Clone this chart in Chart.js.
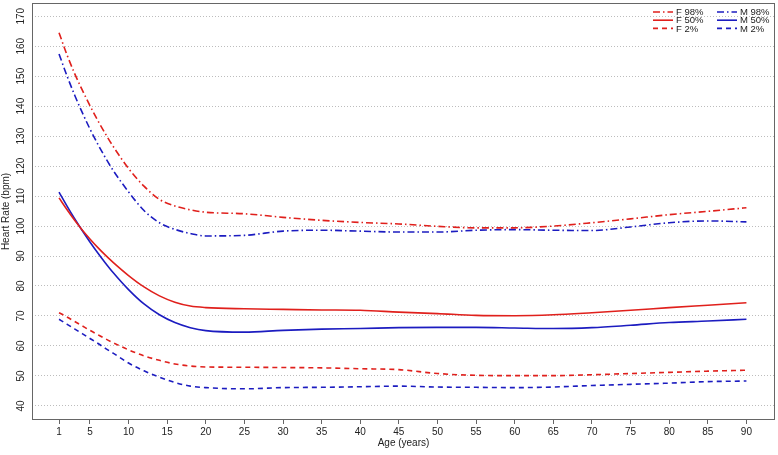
<!DOCTYPE html>
<html><head><meta charset="utf-8">
<script src="https://cdn.jsdelivr.net/npm/chart.js@4.4.0/dist/chart.umd.min.js"></script>
<style>html,body{margin:0;padding:0;background:#fff;}#wrap{width:778px;height:455px;position:relative;}</style>
</head><body><div id="wrap"><canvas id="c" width="778" height="455"></canvas></div>
<script>
// ---- data ----
const ages = [1,2,3,4,5,6,7,8,10,12,14,16,18,20,25,30,35,40,45,50,55,60,65,70,75,80,85,90];
const f98 = [164.5,157.3,151.0,145.4,140.2,135.3,130.8,126.6,119.2,113.3,108.9,106.7,105.4,104.6,104.1,102.9,101.9,101.2,100.7,99.9,99.4,99.4,100,101.1,102.4,103.8,104.9,106.1];
const m98 = [157.4,150.3,143.8,137.9,132.4,127.4,122.8,118.6,111.4,105.2,101.1,98.9,97.5,96.7,96.9,98.3,98.6,98.3,98.0,98.0,98.6,98.8,98.6,98.5,99.7,101.1,101.7,101.4];
const f50 = [109.4,105.6,102.0,98.7,95.7,92.9,90.3,87.9,83.5,79.7,76.7,74.6,73.3,72.8,72.4,72.2,72,71.9,71.3,70.8,70.2,70.1,70.4,71.1,71.9,72.8,73.6,74.4];
const m50 = [111.3,106.8,102.5,98.5,94.7,91.1,87.7,84.5,78.8,74.0,70.4,67.8,66.1,65.1,64.6,65.2,65.6,65.8,66.1,66.2,66.2,66,65.8,66.1,66.9,67.8,68.3,68.9];
const f2  = [71.1,69.7,68.2,66.7,65.2,63.8,62.4,61.1,58.7,56.7,55.2,54.0,53.3,53,52.9,52.8,52.7,52.4,52.1,50.8,50.2,50.1,50.1,50.4,50.8,51.2,51.6,51.9];
const m2  = [68.9,67.3,65.7,64.1,62.5,60.9,59.2,57.6,54.3,51.7,49.6,47.8,46.6,46.1,45.7,46.1,46.2,46.4,46.6,46.3,46.2,46.1,46.3,46.8,47.2,47.6,48.1,48.3];
const xTicks = [1,5,10,15,20,25,30,35,40,45,50,55,60,65,70,75,80,85,90];
const yTicks = [40,50,60,70,80,90,100,110,120,130,140,150,160,170];
const seriesLabels = ['F 98%','M 98%','F 50%','M 50%','F 2%','M 2%'];

// ---- styles ----
const RED = '#e0201c', BLUE = '#1c1cc0';
const DASHDOT = [7,3,1.5,3], DASHED = [5,4], SOLID = [];
const FONT = "'Liberation Sans', Arial, Helvetica, sans-serif";
const TXT = '#222';
Chart.defaults.font.family = FONT;
Chart.defaults.font.size = 10;
Chart.defaults.color = TXT;

function mk(label, vals, color, dash) {
  return {
    label, data: ages.map((a, i) => ({x: a, y: vals[i]})),
    borderColor: color, backgroundColor: color, borderDash: dash,
    borderWidth: 1.6, pointRadius: 0, fill: false,
    cubicInterpolationMode: 'monotone'
  };
}

const datasets = [
  mk(seriesLabels[0], f98, RED, DASHDOT),
  mk(seriesLabels[1], m98, BLUE, DASHDOT),
  mk(seriesLabels[2], f50, RED, SOLID),
  mk(seriesLabels[3], m50, BLUE, SOLID),
  mk(seriesLabels[4], f2, RED, DASHED),
  mk(seriesLabels[5], m2, BLUE, DASHED)
];

const boxPlugin = {
  id: 'box',
  afterDraw(chart) {
    const {ctx, chartArea: a} = chart;
    ctx.save();
    ctx.strokeStyle = '#666';
    ctx.lineWidth = 1;
    ctx.setLineDash([]);
    ctx.strokeRect(Math.round(a.left) + 0.5, Math.round(a.top) + 0.5,
      Math.round(a.right - a.left) - 1, Math.round(a.bottom - a.top) - 1);
    ctx.restore();
  }
};

const legendPlugin = {
  id: 'rlegend',
  afterDraw(chart) {
    const ctx = chart.ctx;
    ctx.save();
    ctx.font = "9.5px " + FONT;
    ctx.textBaseline = 'middle';
    ctx.textAlign = 'left';
    chart.data.datasets.forEach((ds, i) => {
      const col = i % 2, row = Math.floor(i / 2);
      const x0 = col ? 717 : 653;
      const y = 12 + row * 8.2;
      ctx.strokeStyle = ds.borderColor;
      ctx.lineWidth = 1.6;
      ctx.setLineDash(ds.borderDash);
      ctx.beginPath(); ctx.moveTo(x0, y); ctx.lineTo(x0 + 20, y); ctx.stroke();
      ctx.setLineDash([]);
      ctx.fillStyle = TXT;
      ctx.fillText(ds.label, x0 + 23, y + 0.5);
    });
    ctx.restore();
  }
};

new Chart(document.getElementById('c'), {
  type: 'line',
  data: {datasets},
  options: {
    responsive: false, animation: false, devicePixelRatio: 1,
    layout: {padding: {top: 3, right: 3, left: 0, bottom: 0}},
    plugins: {legend: {display: false}, tooltip: {enabled: false}},
    scales: {
      x: {
        type: 'linear', min: -2.5, max: 93.7,
        afterBuildTicks: s => { s.ticks = xTicks.map(v => ({value: v})); },
        afterFit: s => { s.height = 35; s.paddingLeft = 0; s.paddingRight = 0; },
        grid: {drawOnChartArea: false, drawTicks: true, tickLength: 4, color: '#666'},
        border: {display: false},
        ticks: {padding: 2, maxRotation: 0, autoSkip: false, color: TXT, font: {size: 10}, callback: v => String(v)},
        title: {display: true, text: 'Age (years)', color: TXT, font: {size: 10}, padding: {top: 0, bottom: 6}}
      },
      y: {
        type: 'linear', min: 35.3, max: 174.4,
        afterBuildTicks: s => { s.ticks = yTicks.map(v => ({value: v})); },
        afterFit: s => { s.width = 32; s.paddingTop = 0; s.paddingBottom = 0; },
        grid: {drawTicks: false, color: '#bdbdbd', lineWidth: 1},
        border: {display: false, dash: [1, 2]},
        ticks: {minRotation: 90, maxRotation: 90, crossAlign: 'center', padding: 2, color: TXT, font: {size: 10}, callback: v => String(v)},
        title: {display: true, text: 'Heart Rate (bpm)', color: TXT, font: {size: 10}, padding: {top: 0, bottom: 0}}
      }
    }
  },
  plugins: [boxPlugin, legendPlugin]
});
</script></body></html>
